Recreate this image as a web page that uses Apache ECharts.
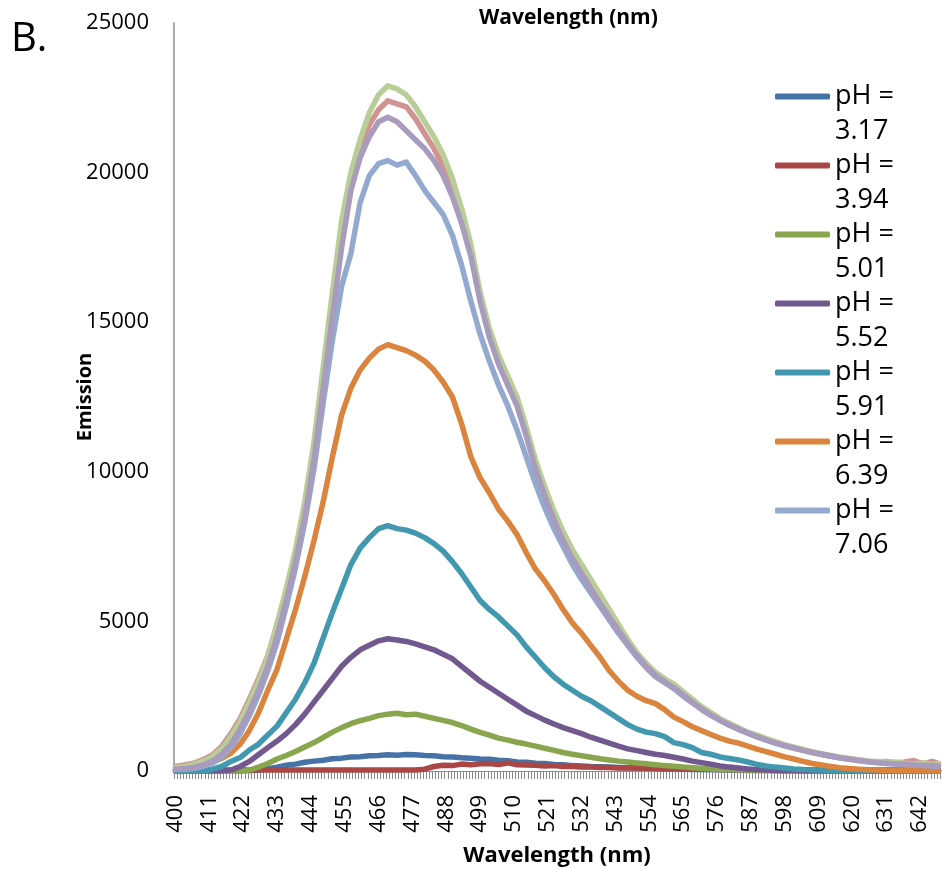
<!DOCTYPE html>
<html><head><meta charset="utf-8">
<script src="https://cdn.jsdelivr.net/npm/echarts@6/dist/echarts.min.js"></script>
<style>html,body{margin:0;padding:0;background:#fff}#c{width:942px;height:869px}</style>
</head><body><div id="c"></div>
<script>
// x categories: every wavelength 400..648 nm (one tick each)
const categories = [];
for (let w = 400; w <= 648; w++) categories.push(String(w));

const sampleNm = [400,403,406,409,412,415,418,421,424,427,
  430,433,436,439,442,445,448,451,454,457,
  460,463,466,469,472,475,478,481,484,487,
  490,493,496,499,502,505,508,511,514,517,
  520,523,526,529,532,535,538,541,544,547,
  550,553,556,559,562,565,568,571,574,577,
  580,583,586,589,592,595,598,601,604,607,
  610,613,616,619,622,625,628,631,634,637,
  640,643,646,648];

const seriesNames = ['pH = 3.17','pH = 3.94','pH = 5.01','pH = 5.52','pH = 5.91','pH = 6.39','pH = 7.06','Series 8','Series 9','Series 10'];
const legendNames = ['pH = 3.17','pH = 3.94','pH = 5.01','pH = 5.52','pH = 5.91','pH = 6.39','pH = 7.06'];
const yTicks = [0, 5000, 10000, 15000, 20000, 25000];

const ph317 = [0,0,0,0,0,0,0,0,10,30,
  80,130,190,230,290,330,360,410,430,470,
  480,510,520,540,530,550,540,520,510,480,
  470,440,430,400,390,360,340,300,290,260,
  250,220,210,180,170,150,140,130,120,110,
  100,90,80,70,70,60,50,50,40,40,
  30,30,20,20,20,10,10,10,0,0,
  0,0,0,0,0,0,0,0,0,0,
  0,0,0,0];
const ph394 = [30,30,30,30,30,30,30,30,30,30,
  30,30,30,30,30,30,30,30,30,30,
  30,30,30,30,30,30,30,60,150,190,
  180,230,210,240,250,220,270,210,200,190,
  170,180,150,150,130,130,120,120,100,100,
  100,90,90,80,80,70,70,60,60,50,
  50,50,40,40,40,40,30,30,30,30,
  30,30,30,30,30,30,30,30,30,30,
  30,30,30,30];
const ph501 = [0,0,0,0,0,0,0,0,30,130,
  250,400,520,650,800,950,1120,1300,1450,1580,
  1680,1760,1850,1900,1930,1880,1900,1830,1760,1690,
  1620,1520,1400,1290,1200,1100,1030,960,900,830,
  760,690,620,560,510,460,410,370,330,300,
  270,240,210,180,160,130,110,90,70,60,
  50,40,30,20,10,10,0,0,0,0,
  0,0,0,0,0,0,0,0,0,0,
  0,0,0,0];
const ph552 = [0,0,0,0,0,0,30,150,320,550,
  780,1000,1250,1550,1900,2300,2700,3100,3500,3800,
  4050,4200,4350,4420,4380,4330,4250,4150,4050,3900,
  3750,3500,3250,3000,2800,2600,2400,2200,2000,1850,
  1700,1570,1450,1350,1250,1130,1030,930,830,740,
  680,620,560,520,460,400,330,280,230,170,
  130,100,70,40,30,20,10,10,0,0,
  0,0,0,0,0,0,0,0,0,0,
  0,0,0,0];
const ph591 = [0,0,0,0,60,150,320,450,700,900,
  1200,1500,1950,2400,2950,3600,4450,5300,6100,6900,
  7450,7800,8100,8200,8100,8050,7950,7800,7600,7350,
  7000,6600,6150,5700,5400,5150,4850,4550,4150,3800,
  3450,3150,2900,2700,2500,2350,2150,1950,1750,1550,
  1400,1300,1250,1150,950,880,780,620,560,470,
  420,370,300,220,170,130,100,70,50,40,
  30,20,10,10,0,0,0,0,0,0,
  0,0,0,0];
const ph639 = [100,130,170,230,310,420,600,900,1350,1950,
  2700,3400,4400,5400,6500,7700,9000,10500,11900,12800,
  13400,13800,14100,14250,14150,14050,13900,13700,13400,13000,
  12500,11600,10500,9800,9300,8750,8350,7900,7300,6750,
  6350,5900,5400,4950,4600,4200,3800,3350,3000,2700,
  2500,2350,2250,2050,1800,1650,1480,1350,1220,1100,
  1000,930,830,730,650,560,470,400,320,250,
  200,150,110,80,60,40,30,20,20,10,
  10,10,0,0];
const ph706 = [40,60,90,150,260,460,780,1250,1850,2550,
  3350,4300,5500,6800,8300,10100,12300,14400,16200,17300,
  19000,19900,20300,20400,20250,20350,19900,19400,19000,18600,
  17900,16900,15700,14600,13700,12900,12200,11400,10500,9600,
  8800,8100,7500,6900,6400,5950,5500,5050,4600,4200,
  3800,3450,3150,2950,2750,2500,2280,2050,1860,1690,
  1530,1390,1260,1140,1030,930,840,760,690,620,
  550,490,430,390,350,310,280,250,230,210,
  190,180,170,160];
const series8 = [150,200,260,380,540,820,1250,1750,2400,3100,
  3850,4900,6000,7300,8800,10800,13200,15600,17900,19500,
  20700,21600,22100,22400,22300,22200,21800,21300,20800,20200,
  19500,18600,17400,15900,14600,13700,13000,12300,11300,10200,
  9300,8500,7800,7200,6700,6200,5700,5200,4750,4300,
  3850,3500,3250,3000,2800,2550,2300,2100,1900,1700,
  1550,1420,1280,1150,1050,950,860,780,700,640,
  560,500,450,400,380,330,300,320,270,300,
  350,230,320,250];
const series9 = [120,150,220,330,480,750,1150,1650,2300,3000,
  3800,4900,6100,7400,9000,11000,13500,16000,18400,20000,
  21100,22000,22600,22900,22800,22600,22200,21700,21200,20600,
  19800,18800,17600,16000,14800,13900,13200,12500,11500,10400,
  9500,8700,8000,7400,6900,6400,5900,5400,4900,4400,
  3950,3600,3300,3080,2900,2650,2400,2150,1950,1750,
  1600,1450,1300,1200,1080,980,880,800,720,640,
  580,520,460,420,370,330,320,290,300,260,
  230,280,210,240];
const series10 = [60,80,120,200,330,560,900,1400,2000,2700,
  3500,4500,5700,7000,8500,10400,12800,15200,17500,19400,
  20500,21200,21700,21850,21700,21400,21100,20800,20400,19900,
  19200,18300,17200,15700,14500,13600,12900,12200,11200,10100,
  9200,8400,7700,7100,6600,6100,5600,5150,4700,4250,
  3850,3500,3200,2980,2780,2550,2300,2080,1880,1700,
  1540,1400,1270,1150,1040,940,850,770,690,620,
  560,500,440,400,350,320,280,260,240,230,
  200,190,180,170];

const allValues = [ph317, ph394, ph501, ph552, ph591, ph639, ph706, series8, series9, series10];
const colors = ['#4572A7','#AA4643','#89A54E','#71588F','#4198AF','#DB843D','#93A9CF','#D19392','#B9CD96','#A99BBD'];

const FONT = 'Open Sans';
const chart = echarts.init(document.getElementById('c'));
chart.setOption({
  backgroundColor: '#fff',
  animation: false,
  color: colors,
  textStyle: { fontFamily: FONT, color: '#000' },
  title: {
    text: 'Wavelength (nm)',
    left: 474, top: 3,
    textStyle: { fontFamily: FONT, fontWeight: 'bold', fontSize: 21, color: '#000' }
  },
  graphic: [{
    type: 'text', left: 11, top: 20,
    style: { text: 'B.', font: '40px "Open Sans"', fill: '#000' }
  }],
  legend: {
    data: legendNames,
    orient: 'vertical',
    left: 775, top: 44,
    padding: 0,
    itemWidth: 55, itemHeight: 6,
    itemGap: -36,
    icon: 'roundRect',
    formatter: function (n) { return '\n' + n.replace(' = ', ' =\n'); },
    textStyle: { fontFamily: FONT, fontSize: 27, color: '#000', lineHeight: 35 }
  },
  grid: { left: 174, right: 2, top: 23, bottom: 98, outerBoundsMode: 'none', containLabel: false },
  xAxis: {
    type: 'category',
    data: categories,
    boundaryGap: true,
    name: 'Wavelength (nm)',
    nameLocation: 'middle',
    nameGap: 74,
    nameMoveOverlap: false,
    nameTextStyle: { fontFamily: FONT, fontWeight: 'bold', fontSize: 22, color: '#000' },
    axisLine: { show: true, onZero: false, lineStyle: { color: '#8c8c8c', width: 1 } },
    axisTick: { show: true, interval: 0, inside: false, length: 8, lineStyle: { color: '#8a8a8a', width: 1 } },
    axisLabel: { interval: 10, rotate: 90, margin: 24, fontSize: 22, fontFamily: FONT, color: '#000', hideOverlap: false },
    splitLine: { show: false }
  },
  yAxis: {
    type: 'value',
    min: yTicks[0], max: yTicks[yTicks.length - 1], interval: 5000,
    name: 'Emission',
    nameLocation: 'middle',
    nameGap: 79,
    nameMoveOverlap: false,
    nameRotate: 90,
    nameTextStyle: { fontFamily: FONT, fontWeight: 'bold', fontSize: 20, color: '#000' },
    axisLine: { show: true, lineStyle: { color: '#8c8c8c', width: 1.5 } },
    axisTick: { show: false },
    axisLabel: { fontSize: 22, fontFamily: FONT, color: '#000', margin: 25, formatter: function (v) { return String(v); } },
    splitLine: { show: false }
  },
  series: allValues.map(function (vals, k) {
    return {
      name: seriesNames[k],
      type: 'line',
      showSymbol: false,
      symbol: 'none',
      smooth: false,
      lineStyle: { width: 5.5, color: colors[k], cap: 'round', join: 'round' },
      itemStyle: { color: colors[k] },
      data: sampleNm.map(function (w, i) { return [String(w), vals[i]]; })
    };
  })
});
</script>
</body></html>
